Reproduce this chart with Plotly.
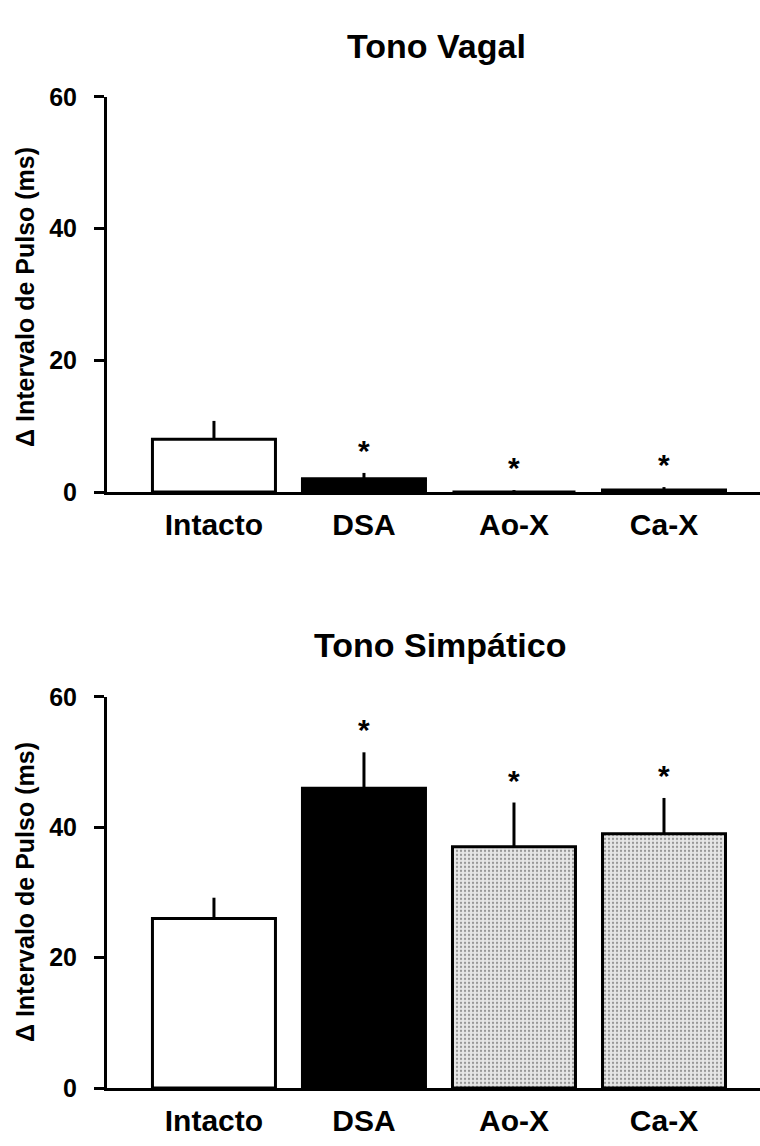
import plotly.graph_objects as go

categories = ["Intacto", "DSA", "Ao-X", "Ca-X"]
vagal_mean = [8.0, 2.0, 0.0, 0.3]
vagal_err = [2.8, 0.9, 0.3, 0.45]
vagal_sig = [False, True, True, True]
simp_mean = [26.0, 46.0, 37.0, 39.0]
simp_err = [3.2, 5.5, 6.8, 5.5]
simp_sig = [False, True, True, True]
y_ticks = [0, 20, 40, 60]

FONT = "Liberation Sans, Arial, sans-serif"
fills = ["white", "black", "#e6e6e6", "#e6e6e6"]
patterns = ["", "", ".", "."]

fig = go.Figure()

def add_panel(means, errs, xa, ya):
    fig.add_trace(go.Bar(
        x=categories, y=means, xaxis=xa, yaxis=ya, width=0.82,
        marker=dict(color=fills, line=dict(color="black", width=3),
                    pattern=dict(shape=patterns, fgcolor="#555555", bgcolor="white",
                                 size=4, solidity=0.25)),
        error_y=dict(type="data", array=errs, arrayminus=[0]*len(errs), symmetric=False,
                     color="black", thickness=3, width=0),
        showlegend=False, hoverinfo="skip"))

add_panel(vagal_mean, vagal_err, "x", "y")
add_panel(simp_mean, simp_err, "x2", "y2")

anns = []
for means, errs, sig, xr, yr in [(vagal_mean, vagal_err, vagal_sig, "x", "y"),
                                  (simp_mean, simp_err, simp_sig, "x2", "y2")]:
    for c, m, e, s in zip(categories, means, errs, sig):
        if s:
            anns.append(dict(x=c, y=m + e, xref=xr, yref=yr, text="*", showarrow=False,
                             yanchor="bottom", yshift=4,
                             font=dict(family=FONT, size=30, color="black", weight="bold")))

H = 1146
W = 760
anns.append(dict(x=437/W, y=1 - 33/H, xref="paper", yref="paper", text="Tono Vagal",
                 showarrow=False, yanchor="middle",
                 font=dict(family=FONT, size=34, color="black", weight="bold")))
anns.append(dict(x=440/W, y=1 - 647/H, xref="paper", yref="paper", text="Tono Simpático",
                 showarrow=False, yanchor="middle",
                 font=dict(family=FONT, size=34, color="black", weight="bold")))
for yc in [290, 900]:
    anns.append(dict(x=25/W, y=1 - yc/H, xref="paper", yref="paper", text="Δ Intervalo de Pulso (ms)",
                     showarrow=False, textangle=-90, xanchor="center", yanchor="middle",
                     font=dict(family=FONT, size=25, color="black", weight="bold")))

xcommon = dict(showline=True, linecolor="black", linewidth=3, ticks="", showgrid=False,
               zeroline=False, tickfont=dict(family=FONT, size=30, color="black", weight="bold"),
               ticklabelstandoff=4, range=[-0.713, 3.64], fixedrange=True)
ycommon = dict(showline=True, linecolor="black", linewidth=3, ticks="outside", ticklen=10,
               tickwidth=3, tickcolor="black", showgrid=False, zeroline=False, range=[0, 60],
               tickvals=y_ticks, tickfont=dict(family=FONT, size=25, color="black", weight="bold"),
               ticklabelstandoff=12)

fig.update_layout(
    width=W, height=H, margin=dict(l=0, r=0, t=0, b=0),
    paper_bgcolor="white", plot_bgcolor="white",
    xaxis=dict(domain=[107/W, 1.0], anchor="y", **xcommon),
    yaxis=dict(domain=[1 - 490/H, 1 - 85/H], anchor="x", **ycommon),
    xaxis2=dict(domain=[107/W, 1.0], anchor="y2", **xcommon),
    yaxis2=dict(domain=[1 - 1101/H, 1 - 700/H], anchor="x2", **ycommon),
    annotations=anns,
)

fig.write_html("out.html")
